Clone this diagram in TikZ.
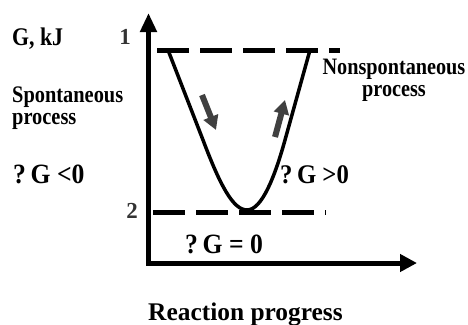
\documentclass[tikz,border=0pt]{standalone}
\usepackage{fontspec}
\setmainfont{Liberation Serif}
\newfontfamily\narrowA[FakeStretch=0.86]{Liberation Serif}
\newfontfamily\narrowB[FakeStretch=0.92]{Liberation Serif}
\usetikzlibrary{arrows.meta}
\definecolor{arrowgray}{HTML}{404040}
\definecolor{numgray}{HTML}{333333}
\tikzset{
  lbl/.style={inner sep=0pt, text=black},
  axisline/.style={line width=5bp, line join=miter, {Triangle[width=16bp,length=19bp]}-{Triangle[width=17bp,length=17bp]}},
  levelline/.style={line width=5bp, dash pattern=on 32bp off 11bp},
  curveline/.style={line width=3.5bp},
  procarrow/.style={line width=6bp, arrowgray, -{Triangle[width=15bp,length=14bp]}}
}
\begin{document}
\begin{tikzpicture}[x=1bp,y=-1bp]
\useasboundingbox (0,0) rectangle (468,324);
% axes
\coordinate (ytip) at (148.5,13);
\coordinate (corner) at (148.5,263);
\coordinate (xtip) at (417,263);
\draw[axisline] (ytip) -- (corner) -- (xtip);
% level lines
\coordinate (l1a) at (157,50.5);
\coordinate (l1b) at (340,50.5);
\coordinate (l2a) at (153,212.5);
\coordinate (l2b) at (326,212.5);
\draw[levelline] (l1a) -- (l1b);
\draw[levelline] (l2a) -- (l2b);
% curve
\coordinate (cl) at (168,50);
\coordinate (cr) at (310,50);
\coordinate (cb) at (247,210);
\draw[curveline] (cl) -- (203,140) .. controls (220,185) and (233,210) .. (cb)
  .. controls (262,210) and (275,176) .. (285,140) -- (cr);
% process arrows
\coordinate (da) at (202,95);
\coordinate (db) at (216,130);
\coordinate (ua) at (275,137);
\coordinate (ub) at (285,100);
\draw[procarrow] (da) -- (db);
\draw[procarrow] (ua) -- (ub);
% labels
\node[lbl, anchor=base west, font={\narrowA\bfseries\fontsize{25.5}{26}\selectfont}] (gkj) at (12,45) {G, kJ};
\node[lbl, text=numgray, anchor=base, font={\bfseries\fontsize{23}{24}\selectfont}] (one) at (125,44) {1};
\node[lbl, text=numgray, anchor=base, font={\bfseries\fontsize{23}{24}\selectfont}] (two) at (132,218) {2};
\node[lbl, anchor=base west, align=left, font={\narrowA\bfseries\fontsize{23.8}{22}\selectfont}] (spon) at (12,124) {Spontaneous\\process};
\node[lbl, anchor=base, align=center, font={\narrowA\bfseries\fontsize{23.6}{22}\selectfont}] (nonspon) at (394,96) {Nonspontaneous\\process};
\node[lbl, anchor=base west, font={\narrowB\bfseries\fontsize{28}{28}\selectfont}] (gneg) at (13,183) {?\,G <0};
\node[lbl, anchor=base west, font={\narrowB\bfseries\fontsize{27}{28}\selectfont}] (gpos) at (280,183) {?\,G >0};
\node[lbl, anchor=base west, font={\narrowB\bfseries\fontsize{28}{28}\selectfont}] (gzero) at (185,253) {?\,G = 0};
\node[lbl, anchor=base west, font={\bfseries\fontsize{25.5}{28}\selectfont}] (rxn) at (148,320) {Reaction progress};
\end{tikzpicture}
\end{document}
